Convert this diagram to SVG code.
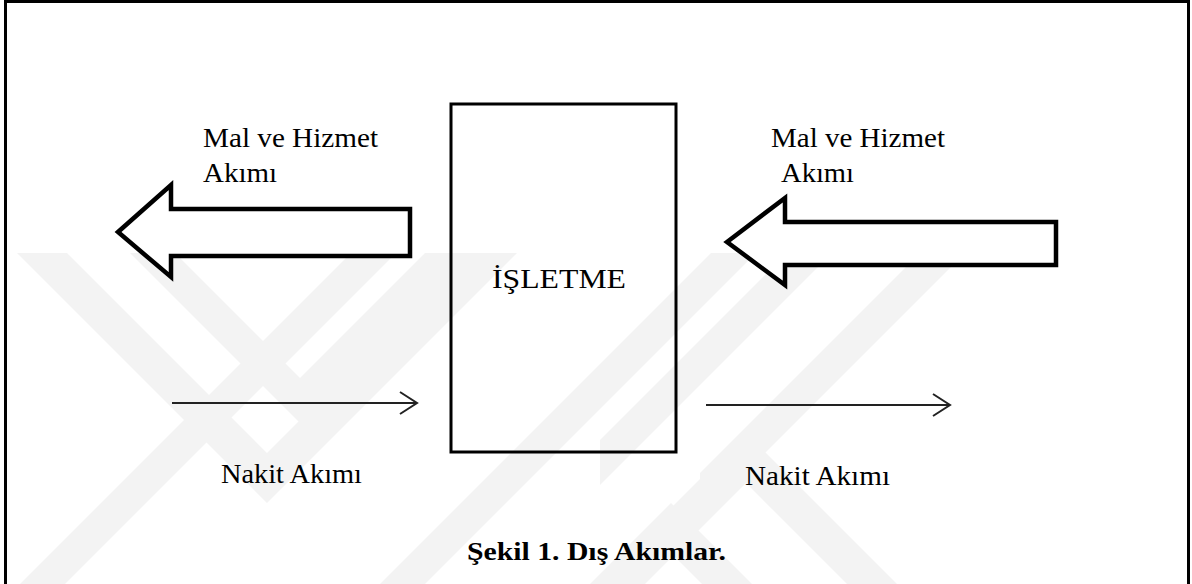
<svg xmlns="http://www.w3.org/2000/svg" width="1192" height="584" viewBox="0 0 1192 584">
  <defs>
    <clipPath id="wm">
      <rect x="7" y="253" width="1180" height="331"/>
    </clipPath>
    <style>
      .big { fill: #fff; stroke: #000; stroke-width: 4.5; stroke-linejoin: miter; }
      .thin { fill: none; stroke: #222; stroke-width: 2; }
      .wm { fill: #f3f3f3; }
    </style>
  </defs>
  <rect x="0" y="0" width="1192" height="584" fill="#fff"/>
  <g id="watermark" clip-path="url(#wm)">
    <polygon class="wm" points="17,253 67,253 267,453 467,253 517,253 267,503"/>
    <polygon class="wm" points="130,253 175,253 300,378 425,253 470,253 300,423"/>
    <polygon class="wm" points="746,433 946,633 896,633 746,483 596,633 546,633"/>
    <polygon class="wm" points="671,503 752,584 702,584 671,553 640,584 590,584"/>
    <polygon class="wm" points="700,473 920,253 965,253 700,518"/>
    <polygon class="wm" points="600,440 787,253 832,253 600,485"/>
    <polygon class="wm" points="20,584 351,253 396,253 65,584"/>
    <polygon class="wm" points="380,584 711,253 756,253 425,584"/>
  </g>
  <path id="frame" d="M5.5,584 V1.5 H1188.5 V584" fill="none" stroke="#000" stroke-width="3"/>
  <g id="isletme">
    <rect x="451" y="104" width="225" height="348" fill="none" stroke="#000" stroke-width="3"/>
    <text x="492" y="288" font-family="Liberation Serif, Times New Roman, serif" font-size="28" textLength="134" lengthAdjust="spacingAndGlyphs">İŞLETME</text>
  </g>
  <g id="mal-left">
    <polygon class="big" points="118,232 171,185 171,209 410,209 410,256 171,256 171,277"/>
    <text x="203" y="147" font-family="Liberation Serif, Times New Roman, serif" font-size="28" textLength="175" lengthAdjust="spacingAndGlyphs">Mal ve Hizmet</text>
    <text x="203" y="182" font-family="Liberation Serif, Times New Roman, serif" font-size="28" textLength="74" lengthAdjust="spacingAndGlyphs">Akımı</text>
  </g>
  <g id="mal-right">
    <polygon class="big" points="727,242 785,198 785,222 1056,222 1056,265 785,265 785,285"/>
    <text x="771" y="147" font-family="Liberation Serif, Times New Roman, serif" font-size="28" textLength="174" lengthAdjust="spacingAndGlyphs">Mal ve Hizmet</text>
    <text x="781" y="182" font-family="Liberation Serif, Times New Roman, serif" font-size="28" textLength="73" lengthAdjust="spacingAndGlyphs">Akımı</text>
  </g>
  <g id="connectors">
    <line class="thin" x1="172" y1="403" x2="417" y2="403"/>
    <polyline class="thin" points="400,392 417,403 400,414"/>
    <line class="thin" x1="706" y1="405" x2="950" y2="405"/>
    <polyline class="thin" points="933,394 950,405 933,416"/>
  </g>
  <g id="nakit-left">
    <text x="221" y="483" font-family="Liberation Serif, Times New Roman, serif" font-size="28" textLength="141" lengthAdjust="spacingAndGlyphs">Nakit Akımı</text>
  </g>
  <g id="nakit-right">
    <text x="745" y="485" font-family="Liberation Serif, Times New Roman, serif" font-size="28" textLength="145" lengthAdjust="spacingAndGlyphs">Nakit Akımı</text>
  </g>
  <g id="caption">
    <text x="467" y="560" font-family="Liberation Serif, Times New Roman, serif" font-size="25" font-weight="bold" textLength="259" lengthAdjust="spacingAndGlyphs">Şekil 1. Dış Akımlar.</text>
  </g>
</svg>
